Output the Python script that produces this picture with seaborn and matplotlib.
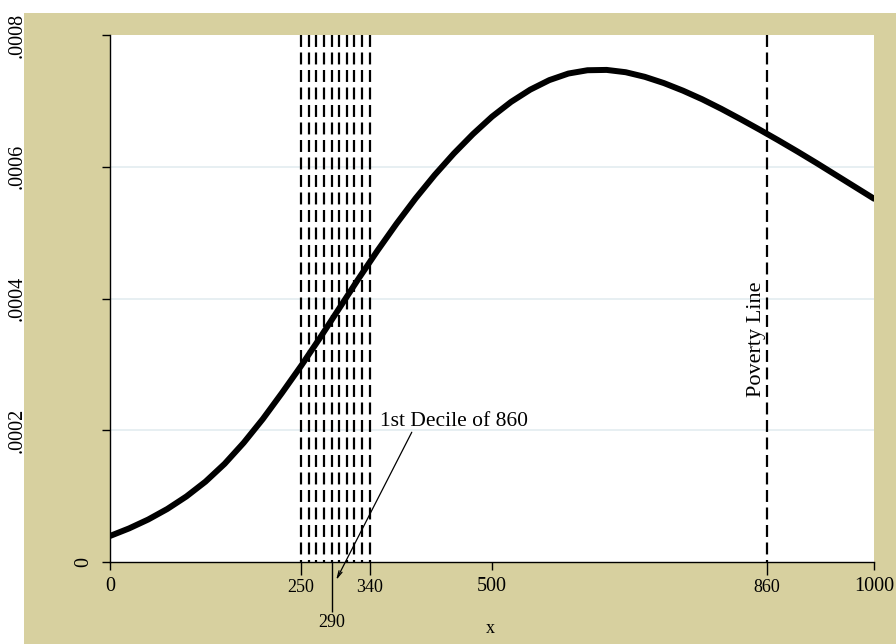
"""
Density curve with decile lines and a poverty line (Stata-style figure)
"""

import pandas as pd
import numpy as np
import matplotlib.pyplot as plt
import matplotlib.transforms as mtransforms
from matplotlib.patches import Rectangle
import seaborn as sns

sns.set_style('white')
plt.rcParams['font.family'] = ['Liberation Serif', 'DejaVu Serif']
plt.rcParams['lines.scale_dashes'] = False
plt.rcParams['text.color'] = 'black'

# values
x_values = [0, 25, 50, 75, 100, 125, 150, 175, 200, 225, 250, 275, 300, 325, 350,
            375, 400, 425, 450, 475, 500, 525, 550, 575, 600, 625, 650, 675, 700,
            725, 750, 775, 800, 825, 850, 875, 900, 925, 950, 975, 1000]
density = [0.0000395, 0.000051, 0.0000645, 0.0000805, 0.0000995, 0.000122,
           0.000149, 0.000181, 0.000217, 0.0002565, 0.0002975, 0.0003405,
           0.000385, 0.0004295, 0.0004725, 0.0005135, 0.000552, 0.0005875,
           0.000620, 0.0006495, 0.000676, 0.0006985, 0.000717, 0.0007315,
           0.0007415, 0.0007465, 0.000747, 0.0007435, 0.0007365, 0.000727,
           0.0007155, 0.0007025, 0.000688, 0.0006725, 0.0006565, 0.000640,
           0.000623, 0.0006055, 0.0005875, 0.0005695, 0.0005515]

decile_lines = [250, 260, 270, 280, 290, 300, 310, 320, 330, 340]
poverty_line = 860
main_xticks = [0, 500, 1000]
small_xticks = [250, 340, 860]
long_xtick = [290]
yticks = [0, 0.0002, 0.0004, 0.0006, 0.0008]
ytick_labels = ['0', '.0002', '.0004', '.0006', '.0008']
grid_values = [0.0002, 0.0004, 0.0006]

KHAKI = '#d7d09f'
GRID = '#e3ecf0'


def main():
    df = pd.DataFrame({'x': x_values, 'density': density})

    fig = plt.figure(figsize=(8.96, 6.44), dpi=100, facecolor='white')
    # khaki outer region, behind the axes
    fig.patches.append(Rectangle((24 / 896, 0), 1 - 24 / 896, 631 / 644,
                                 transform=fig.transFigure, facecolor=KHAKI,
                                 edgecolor='none', zorder=-10))

    ax = fig.add_axes([110 / 896, 82 / 644, 764 / 896, 527 / 644])
    ax.set_zorder(1)
    ax.set_facecolor('white')
    ax.set_xlim(0, 1000)
    ax.set_ylim(0, 0.0008)

    for g in grid_values:
        ax.axhline(g, color=GRID, lw=1.2, zorder=1)

    # dashed lines (drawn from the top down so the dash pattern starts at the top)
    top = ax.get_ylim()[1]
    for xv in decile_lines + [poverty_line]:
        ax.plot([xv, xv], [top, 0], color='black', lw=1.6,
                linestyle=(0, (8.6, 4.0)), zorder=2)

    sns.lineplot(data=df, x='x', y='density', ax=ax, color='black', lw=4.3,
                 zorder=3, solid_joinstyle='round')

    # spines
    for side in ['top', 'right']:
        ax.spines[side].set_visible(False)
    for side in ['left', 'bottom']:
        ax.spines[side].set_color('black')
        ax.spines[side].set_linewidth(1.0)

    # x ticks
    ax.set_xticks(main_xticks)
    ax.set_xticklabels([str(v) for v in main_xticks])
    ax.tick_params(axis='x', which='major', length=6, width=1, labelsize=14.5,
                   pad=5, bottom=True, color='black', labelcolor='black')
    ax.set_xticks(small_xticks, minor=True)
    ax.set_xticklabels([str(v) for v in small_xticks], minor=True)
    ax.tick_params(axis='x', which='minor', length=9.5, width=1, labelsize=13,
                   pad=2.5, bottom=True, color='black', labelcolor='black')

    sec = ax.secondary_xaxis('bottom')
    sec.set_xticks(long_xtick)
    sec.set_xticklabels([str(v) for v in long_xtick])
    sec.tick_params(length=36, width=1, labelsize=13, pad=1.5, color='black',
                    labelcolor='black')
    sec.spines['bottom'].set_visible(False)

    ax.set_xlabel('x', fontsize=13, color='black')
    ax.xaxis.set_label_coords(0.498, -0.127)
    ax.xaxis.label.set_va('center')
    ax.set_ylabel('')

    # y ticks: marks on the axis, labels placed by hand like the original
    ax.set_yticks(yticks)
    ax.tick_params(axis='y', length=6, width=1, left=True, labelleft=False,
                   color='black')
    trans = mtransforms.blended_transform_factory(fig.transFigure, ax.transData)
    for val, lab in zip(yticks, ytick_labels):
        if val == 0:
            fig.text(84 / 896, val, lab, transform=trans, rotation=90,
                     ha='center', va='center', fontsize=14.5)
        else:
            fig.text(17 / 896, val, lab, transform=trans, rotation=90,
                     ha='center', va='center', fontsize=14.5)

    # text labels
    ax.text(846, 0.000338, 'Poverty Line', rotation=90, ha='center',
            va='center', fontsize=16)
    ax.text(353, 0.000213, '1st Decile of 860', ha='left', va='center',
            fontsize=15.5)
    ax.annotate('', xy=(296, -0.0000274), xytext=(395, 0.000197),
                annotation_clip=False,
                arrowprops=dict(arrowstyle='->,head_length=0.5,head_width=0.12',
                                color='black', lw=0.9, shrinkA=0, shrinkB=0))

    plt.savefig('out.png', dpi=100, facecolor=fig.get_facecolor())


if __name__ == "__main__":
    main()
